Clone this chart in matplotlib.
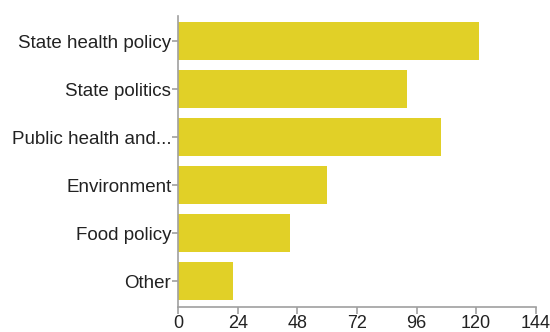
import matplotlib.pyplot as plt
import numpy as np

plt.rcParams['font.family'] = ['Liberation Sans', 'DejaVu Sans']

categories = ['State health policy', 'State politics', 'Public health and...',
              'Environment', 'Food policy', 'Other']
counts = [121, 92, 106, 60, 45, 22]
xticks = [0, 24, 48, 72, 96, 120, 144]

fig = plt.figure(figsize=(5.5, 3.32), dpi=100)
ax = fig.add_axes([0.324, 0.076, 0.65, 0.876])

y = np.arange(len(categories))
ax.barh(y, counts, height=0.79, color='#E1D027', edgecolor='none')

ax.set_xlim(0, 144)
ax.set_ylim(len(categories) - 0.47, -0.53)
ax.set_xticks(xticks)
ax.set_xticklabels([str(t) for t in xticks])
ax.set_yticks(y)
ax.set_yticklabels(categories)

for side in ['top', 'right']:
    ax.spines[side].set_visible(False)
for side in ['left', 'bottom']:
    ax.spines[side].set_color('#a0a0a0')
    ax.spines[side].set_linewidth(1.2)

ax.tick_params(axis='x', colors='#a0a0a0', labelcolor='#222222', labelsize=13, length=5, width=1.2, pad=1)
ax.tick_params(axis='y', colors='#a0a0a0', labelcolor='#222222', labelsize=13.5, length=4, width=1.2, pad=1)

fig.savefig('out.png', dpi=100)
